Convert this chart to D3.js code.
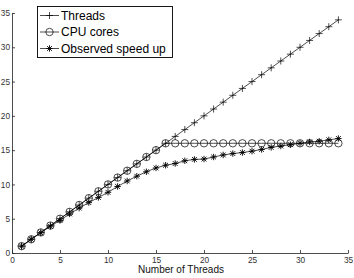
<!DOCTYPE html>
<html><head><meta charset="utf-8">
<script src="https://cdn.jsdelivr.net/npm/d3@7"></script>
<style>body{margin:0;background:#fff}svg{display:block}</style>
</head><body>
<svg id="c" width="354" height="278"></svg>
<script>
const threads = d3.range(1, 35);
const threadValues = [1,2,3,4,5,6,7,8,9,10,11,12,13,14,15,16,17,18,19,20,21,22,23,24,25,26,27,28,29,30,31,32,33,34];
const cpuCores = [1,2,3,4,5,6,7,8,9,10,11,12,13,14,15,16,16,16,16,16,16,16,16,16,16,16,16,16,16,16,16,16,16,16];
const observed = [1,2,2.95,3.9,4.75,5.7,6.55,7.35,8.1,8.85,9.7,10.5,11.2,11.85,12.4,12.8,13.05,13.45,13.65,13.7,14.0,14.3,14.5,14.65,14.85,15.1,15.4,15.6,15.8,16.0,16.2,16.3,16.5,16.7];
const xTicks = [0,5,10,15,20,25,30,35];
const yTicks = [0,5,10,15,20,25,30,35];
const legendLabels = ["Threads","CPU cores","Observed speed up"];
const xLabel = "Number of Threads";

const svg = d3.select("#c");
const x = d3.scaleLinear().domain([0,35]).range([12,348]);
const y = d3.scaleLinear().domain([0,35]).range([253,13]);
const font = "'Liberation Sans', Arial, Helvetica, sans-serif";

// axes
const xAxis = d3.axisBottom(x).tickValues(xTicks).tickSizeInner(-3).tickSizeOuter(0).tickPadding(4);
const yAxis = d3.axisLeft(y).tickValues(yTicks).tickSizeInner(-3).tickSizeOuter(0).tickPadding(2);
const gx = svg.append("g").attr("transform","translate(0,253)").call(xAxis);
const gy = svg.append("g").attr("transform","translate(12,0)").call(yAxis);
[gx,gy].forEach(g=>{
  g.select(".domain").attr("stroke","#222").attr("stroke-width",0.8);
  g.selectAll(".tick line").attr("stroke","#222").attr("stroke-width",0.8);
  g.selectAll(".tick text").attr("font-family",font).attr("font-size",8.3).attr("fill","#333");
});
svg.append("text").attr("x",181).attr("y",273).attr("text-anchor","middle")
  .attr("font-family",font).attr("font-size",10).attr("fill","#111").text(xLabel);

const line = d3.line().x((d,i)=>x(threads[i])).y(d=>y(d));

function plus(g, s){ g.append("path").attr("d",`M${-s},0H${s}M0,${-s}V${s}`); }
function cross(g, s){ g.append("path").attr("d",`M${-s},${-s}L${s},${s}M${-s},${s}L${s},${-s}`); }
function markPlus(g){ plus(g,3.5); }
function markCircle(g){ g.append("circle").attr("r",3.7).attr("fill","none"); }
function markStar(g){ g.attr("stroke-width",0.9); plus(g,3.2); cross(g,2.4); }

const series = [
  {vals: threadValues, mark: markPlus},
  {vals: cpuCores, mark: markCircle},
  {vals: observed, mark: markStar}
];
series.forEach(s=>{
  svg.append("path").datum(s.vals).attr("d",line).attr("fill","none")
    .attr("stroke","#000").attr("stroke-width",0.7);
  s.vals.forEach((v,i)=>{
    const g = svg.append("g").attr("transform",`translate(${x(threads[i])},${y(v)})`)
      .attr("stroke","#000").attr("stroke-width",0.7).attr("fill","none");
    s.mark(g);
  });
});

// legend
const lg = svg.append("g");
lg.append("rect").attr("x",37.5).attr("y",6.5).attr("width",135).attr("height",51)
  .attr("fill","#fff").attr("stroke","#000").attr("stroke-width",0.9);
const ly = [15.5,32,48.5];
series.forEach((s,i)=>{
  lg.append("line").attr("x1",40).attr("x2",59).attr("y1",ly[i]).attr("y2",ly[i])
    .attr("stroke","#000").attr("stroke-width",0.7);
  const g = lg.append("g").attr("transform",`translate(49.5,${ly[i]})`)
    .attr("stroke","#000").attr("stroke-width",0.7).attr("fill","none");
  s.mark(g);
  lg.append("text").attr("x",61).attr("y",ly[i]+4.3).attr("font-family",font)
    .attr("font-size",12).attr("fill","#000").text(legendLabels[i]);
});
</script>
</body></html>
